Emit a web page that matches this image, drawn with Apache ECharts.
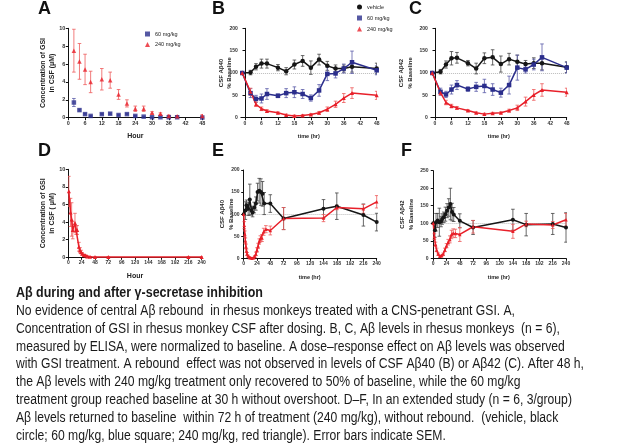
<!DOCTYPE html>
<html><head><meta charset="utf-8">
<script src="https://cdn.jsdelivr.net/npm/echarts@6/dist/echarts.min.js"></script>
<style>html,body{margin:0;padding:0;background:#fff}#c{width:631px;height:444px}</style>
</head><body><div id="c"></div><script>
// ---------- DATA ----------
// Panel A: GSI concentration in CSF (uM)
const hoursA = [2,4,6,8,12,15,18,21,24,27,30,33,36,39,48];
const gsi60 = [1.7,0.85,0.4,0.2,0.4,0.45,0.3,0.4,0.2,0.12,0.05,0.05,0.05,0.05,0.02];
const gsi60Err = [0.45,0.1,0.08,0.05,0.06,0.08,0.06,0.06,0.05,0.04,0.03,0.03,0.02,0.02,0.02];
const gsi240 = [7.5,6.3,5.4,4.0,4.3,4.2,2.6,1.6,1.0,1.0,0.55,0.45,0.2,0.15,0.2];
const gsi240Err = [2.4,2.0,1.7,1.2,1.2,0.9,0.55,0.4,0.3,0.3,0.12,0.1,0.1,0.1,0.15];
// Panels B, C: Abeta % baseline
const hoursBC = [-1,2,4,6,8,12,15,18,21,24,27,30,33,36,39,48];
const ab40Veh = [100,101,114,121,121,112,104,119,127,112,130,116,110,110,114,110];
const ab40VehErr = [0,5,7,10,10,7,8,10,12,15,12,10,8,8,12,12];
const ab40Low = [100,55,42,43,53,49,55,57,53,44,61,98,99,110,124,106];
const ab40LowErr = [0,10,8,10,12,4,10,12,10,7,13,15,10,10,25,10];
const ab40High = [100,58,30,20,15,11,6,4,5,7,11,19,30,44,55,50];
const ab40HighErr = [0,8,5,4,3,2,2,2,2,2,3,5,7,10,12,9];
const ab42Veh = [100,103,119,133,134,122,110,133,135,120,131,125,120,122,122,113];
const ab42VehErr = [0,5,8,15,12,6,12,12,17,18,13,15,8,12,15,12];
const ab42Low = [100,58,52,63,73,64,69,71,63,56,73,112,108,119,135,112];
const ab42LowErr = [0,8,7,10,10,5,10,15,13,10,20,28,8,12,30,12];
const ab42High = [100,56,34,26,22,16,11,8,10,11,16,22,36,51,62,57];
const ab42HighErr = [0,5,5,4,3,2,2,2,2,2,3,6,10,12,14,9];
// Panel D: extended study GSI concentration
const hoursD = [1,4,6,8,12,14,16,19,21,23,25,28,31,34,39,48,72,216,240];
const gsiExt = [7.5,5.1,4.3,3.1,3.9,3.1,3.1,1.2,0.8,0.6,0.4,0.25,0.2,0.1,0.05,0.02,0.02,0.02,0.02];
const gsiExtErr = [1.7,1.6,1.9,1.0,1.1,0.5,0.5,0.5,0.3,0.2,0.15,0.1,0.08,0.05,0.03,0.02,0.02,0.02,0.02];
// Panel E: extended study Abeta40
const hoursEVeh = [0,3,5,8,11,14,16,19,22,25,28,31,34,37,48,72,144,168,216,240];
const ab40ExtVeh = [100,108,120,112,133,108,104,115,124,150,153,150,146,124,124,90,112,118,98,82];
const ab40ExtVehErr = [0,20,12,15,35,10,10,12,15,20,28,30,28,25,20,25,21,30,25,20];
const hoursEHigh = [0,1,2,3,4,5,6,8,10,12,15,18,20,22,24,26,28,30,33,36,40,48,72,144,168,216,240];
const ab40ExtHigh = [100,75,55,40,27,17,10,5,2,1,0,1,4,10,19,28,38,44,46,60,66,63,90,91,115,112,128];
const ab40ExtHighErr = [0,8,7,6,5,4,3,2,1,1,1,1,2,4,5,6,6,7,8,8,8,10,25,8,5,10,14];
// Panel F: extended study Abeta42
const hoursFVeh = [0,3,5,8,11,14,16,19,22,25,28,31,34,37,48,72,144,168,216,240];
const ab42ExtVeh = [100,80,103,108,103,105,112,117,126,136,145,155,132,125,107,88,110,96,98,88];
const ab42ExtVehErr = [0,20,25,20,40,15,15,15,20,20,25,45,25,20,20,20,30,32,30,42];
const hoursFHigh = [0,2,4,6,9,12,15,18,21,24,27,30,33,36,40,48,72,144,168,216,240];
const ab42ExtHigh = [100,62,40,24,12,6,7,12,24,36,46,54,68,72,71,68,90,77,98,95,110];
const ab42ExtHighErr = [0,8,6,5,3,2,2,3,5,6,8,10,12,12,12,20,18,20,8,10,18];
// tick labels
const ticksShort = [0,6,12,18,24,30,36,42,48];
const ticksLong = [0,24,48,72,96,120,144,168,192,216,240];
const panelLetters = ['A','B','C','D','E','F'];
const captionTitle = 'A\u03b2 during and after \u03b3-secretase inhibition';
const captionLines = [
 'No evidence of central A\u03b2 rebound  in rhesus monkeys treated with a CNS-penetrant GSI. A,',
 'Concentration of GSI in rhesus monkey CSF after dosing. B, C, A\u03b2 levels in rhesus monkeys  (n = 6),',
 'measured by ELISA, were normalized to baseline. A dose\u2013response effect on A\u03b2 levels was observed',
 'with GSI treatment. A rebound  effect was not observed in levels of CSF A\u03b240 (B) or A\u03b242 (C). After 48 h,',
 'the A\u03b2 levels with 240 mg/kg treatment only recovered to 50% of baseline, while the 60 mg/kg',
 'treatment group reached baseline at 30 h without overshoot. D\u2013F, In an extended study (n = 6, 3/group)',
 'A\u03b2 levels returned to baseline  within 72 h of treatment (240 mg/kg), without rebound.  (vehicle, black',
 'circle; 60 mg/kg, blue square; 240 mg/kg, red triangle). Error bars indicate SEM.'
];

// ---------- STYLE ----------
const FF = '"Liberation Sans", Arial, sans-serif';
const BLACK = '#161616', BLUE = '#2b2e8c', RED = '#e8202a';
const ERR = {[BLACK]:'#444', [BLUE]:'#5a5ca8', [RED]:'#ee5a5a'};

const grids = [
 {left:68.3, top:28.3, width:134, height:89.4},
 {left:240.9, top:28.3, width:135.8, height:89.4},
 {left:430.9, top:28.3, width:135.8, height:89.4},
 {left:68.3, top:169.3, width:133.4, height:88},
 {left:242.6, top:170, width:134.1, height:88.3},
 {left:431.6, top:170.7, width:134.4, height:87.6}
].map(g => Object.assign({outerBoundsMode:'none', containLabel:false}, g));

function xAxis(gi, min, max, ticks, name, fs, gap, lfs) {
  return {type:'value', gridIndex:gi, min, max, name, nameLocation:'middle', nameGap:gap, nameMoveOverlap:false,
    nameTextStyle:{fontSize:fs, fontWeight:'bold', color:'#222', fontFamily:FF},
    axisLine:{onZero:false, lineStyle:{color:'#111', width:1}},
    axisTick:{customValues:ticks, length:2.5, lineStyle:{color:'#111', width:1}},
    axisLabel:{customValues:ticks, fontSize:lfs, fontWeight:'bold', color:'#333', margin:3, fontFamily:FF},
    splitLine:{show:false}};
}
function yAxis(gi, max, interval, name, fs, gap, lfs, lh) {
  return {type:'value', gridIndex:gi, min:0, max, interval, name, nameLocation:'middle', nameGap:gap, nameRotate:90,
    nameMoveOverlap:false,
    nameTextStyle:{fontSize:fs, fontWeight:'bold', color:'#222', fontFamily:FF, lineHeight:lh},
    axisLine:{show:true, lineStyle:{color:'#111', width:1}},
    axisTick:{show:true, length:2.5, lineStyle:{color:'#111', width:1}},
    axisLabel:{fontSize:lfs, fontWeight:'bold', color:'#333', margin:3, fontFamily:FF},
    splitLine:{show:false}};
}

function errBars(gi, xs, ys, es, color) {
  const data = [];
  xs.forEach((x, i) => { if (es[i] > 0) data.push([x, Math.max(0, ys[i] - es[i]), ys[i] + es[i]]); });
  return {type:'custom', xAxisIndex:gi, yAxisIndex:gi, silent:true, z:1, clip:true,
    encode:{x:0, y:[1,2]}, data,
    renderItem:(p, api) => {
      const lo = api.coord([api.value(0), api.value(1)]);
      const hi = api.coord([api.value(0), api.value(2)]);
      const h = 1.8, st = {stroke:ERR[color], lineWidth:0.8};
      return {type:'group', children:[
        {type:'line', shape:{x1:lo[0], y1:lo[1], x2:hi[0], y2:hi[1]}, style:st},
        {type:'line', shape:{x1:hi[0]-h, y1:hi[1], x2:hi[0]+h, y2:hi[1]}, style:st},
        {type:'line', shape:{x1:lo[0]-h, y1:lo[1], x2:lo[0]+h, y2:lo[1]}, style:st}
      ]};
    }};
}
const SYM = {vehicle:'circle', '60 mg/kg':'rect', '240 mg/kg':'triangle'};
const COL = {vehicle:BLACK, '60 mg/kg':BLUE, '240 mg/kg':RED};
function lineSeries(gi, name, xs, ys, opts) {
  opts = opts || {};
  const s = {type: opts.scatter ? 'scatter' : 'line', name, xAxisIndex:gi, yAxisIndex:gi,
    data: xs.map((x, i) => [x, ys[i]]), symbol:SYM[name], symbolSize: opts.size || 4.5,
    itemStyle:{color:COL[name]}, z:3, silent:true};
  if (!opts.scatter) s.lineStyle = {color:COL[name], width:1.5};
  if (opts.baseline) s.markLine = {silent:true, symbol:'none', label:{show:false}, z:0,
    lineStyle:{color:'#bbb', type:'dotted', width:1}, data:[{yAxis:100}]};
  return s;
}

const series = [
  errBars(0, hoursA, gsi60, gsi60Err, BLUE),
  errBars(0, hoursA, gsi240, gsi240Err, RED),
  lineSeries(0, '60 mg/kg', hoursA, gsi60, {scatter:true, size:4.5}),
  lineSeries(0, '240 mg/kg', hoursA, gsi240, {scatter:true, size:4.5}),

  errBars(1, hoursBC, ab40Veh, ab40VehErr, BLACK),
  errBars(1, hoursBC, ab40Low, ab40LowErr, BLUE),
  errBars(1, hoursBC, ab40High, ab40HighErr, RED),
  lineSeries(1, 'vehicle', hoursBC, ab40Veh, {baseline:true}),
  lineSeries(1, '60 mg/kg', hoursBC, ab40Low),
  lineSeries(1, '240 mg/kg', hoursBC, ab40High, {size:4}),

  errBars(2, hoursBC, ab42Veh, ab42VehErr, BLACK),
  errBars(2, hoursBC, ab42Low, ab42LowErr, BLUE),
  errBars(2, hoursBC, ab42High, ab42HighErr, RED),
  lineSeries(2, 'vehicle', hoursBC, ab42Veh, {baseline:true}),
  lineSeries(2, '60 mg/kg', hoursBC, ab42Low),
  lineSeries(2, '240 mg/kg', hoursBC, ab42High, {size:4}),

  errBars(3, hoursD, gsiExt, gsiExtErr, RED),
  lineSeries(3, '240 mg/kg', hoursD, gsiExt, {size:4}),

  errBars(4, hoursEVeh, ab40ExtVeh, ab40ExtVehErr, BLACK),
  errBars(4, hoursEHigh, ab40ExtHigh, ab40ExtHighErr, RED),
  lineSeries(4, 'vehicle', hoursEVeh, ab40ExtVeh, {baseline:true, size:4}),
  lineSeries(4, '240 mg/kg', hoursEHigh, ab40ExtHigh, {size:3.5}),

  errBars(5, hoursFVeh, ab42ExtVeh, ab42ExtVehErr, BLACK),
  errBars(5, hoursFHigh, ab42ExtHigh, ab42ExtHighErr, RED),
  lineSeries(5, 'vehicle', hoursFVeh, ab42ExtVeh, {baseline:true, size:4}),
  lineSeries(5, '240 mg/kg', hoursFHigh, ab42ExtHigh, {size:3.5})
];

// caption with fitted horizontal scale
const mctx = document.createElement('canvas').getContext('2d');
const capFont = '14px ' + FF, capBold = 'bold 14px ' + FF;
mctx.font = capFont; const wRef = mctx.measureText(captionLines[0]).width;
mctx.font = capBold; const wBold = mctx.measureText(captionTitle).width;
const sx = 499 / wRef, sxb = 247 / wBold;
const graphic = [];
graphic.push({type:'text', x:16, y:293, scaleX:sxb, style:{text:captionTitle, font:capBold, fill:'#1a1a1a', verticalAlign:'middle'}});
captionLines.forEach((t, i) => graphic.push({type:'text', x:16, y:293 + 17.9 * (i + 1), scaleX:sx,
  style:{text:t, font:capFont, fill:'#1a1a1a', verticalAlign:'middle'}}));
const letterPos = [[38,9],[212,9],[409,9],[38,151],[212,151],[401,151]];
panelLetters.forEach((l, i) => graphic.push({type:'text', x:letterPos[i][0], y:letterPos[i][1],
  style:{text:l, font:'bold 18px ' + FF, fill:'#111', verticalAlign:'middle'}}));

const legendCommon = {orient:'vertical', itemWidth:5, itemHeight:5, selectedMode:false, padding:0,
  textStyle:{fontSize:5.5, color:'#222', fontFamily:FF}, icon:'rect'};
const option = {
  animation:false,
  textStyle:{fontFamily:FF},
  grid: grids,
  xAxis: [
    xAxis(0, 0, 48, ticksShort, 'Hour', 7, 15, 5.5),
    xAxis(1, -1.5, 48, ticksShort, 'time (hr)', 5.5, 16, 5),
    xAxis(2, -1.5, 48, ticksShort, 'time (hr)', 5.5, 16, 5),
    xAxis(3, 0, 240, ticksLong, 'Hour', 7, 15, 5),
    xAxis(4, -2, 240, ticksLong, 'time (hr)', 5.5, 16, 5),
    xAxis(5, -3, 240, ticksLong, 'time (hr)', 5.5, 16, 5)
  ],
  yAxis: [
    yAxis(0, 10, 2, 'Concentration of GSI\nin CSF (\u03bcM)', 7, 12, 5.5, 9),
    yAxis(1, 200, 50, 'CSF A\u03b240\n% Baseline', 6, 8, 5, 7.5),
    yAxis(2, 200, 50, 'CSF A\u03b242\n% Baseline', 6, 16, 5, 9),
    yAxis(3, 10, 2, 'Concentration of GSI\nin CSF ( \u03bcM)', 7, 12, 5.5, 9),
    yAxis(4, 200, 50, 'CSF A\u03b240\n% Baseline', 6, 7, 5, 9),
    yAxis(5, 250, 50, 'CSF A\u03b242\n% Baseline', 6, 16, 5, 9)
  ],
  legend: [
    Object.assign({}, legendCommon, {left:145, top:31, itemGap:4.5,
      data:[{name:'60 mg/kg', icon:'rect'}, {name:'240 mg/kg', icon:'triangle'}]}),
    Object.assign({}, legendCommon, {left:357, top:4, itemGap:5,
      data:[{name:'vehicle', icon:'circle'}, {name:'60 mg/kg', icon:'rect'}, {name:'240 mg/kg', icon:'triangle'}]})
  ],
  graphic,
  series
};
const chart = echarts.init(document.getElementById('c'), null, {renderer:'canvas'});
chart.setOption(option);
</script></body></html>
